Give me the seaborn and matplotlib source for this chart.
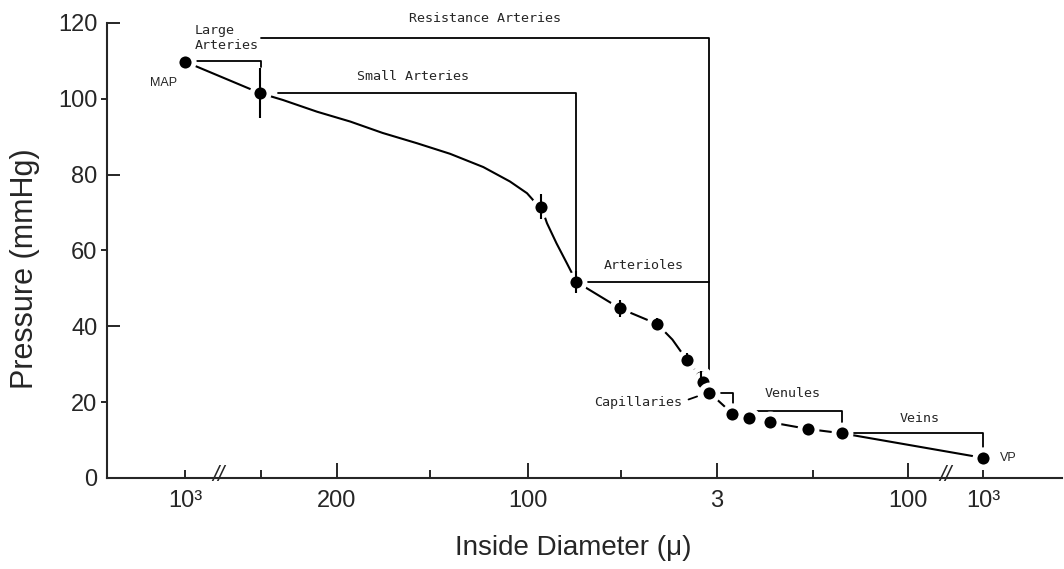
import numpy as np
import pandas as pd
import matplotlib
matplotlib.use("Agg")
import matplotlib.pyplot as plt
import seaborn as sns

# x is the position along the (broken, non-linear) diameter axis
tick_major = [1.60, 3.61, 5.60, 7.61]
tick_major_labels = ["200", "100", "3", "100"]
tick_minor = [0.0, 0.80, 2.58, 4.59, 6.61, 8.40]
tick_minor_labels = ["10³", "", "", "", "", "10³"]
axis_breaks = [0.35, 8.00]

# measured points (mean pressure, mmHg) and their error bars
pt_x = [0.0, 0.79, 3.75, 4.12, 4.58, 4.97, 5.28, 5.43, 5.45, 5.52,
        5.76, 5.94, 6.16, 6.56, 6.91, 8.40]
pt_y = [109.8, 101.5, 71.5, 51.7, 44.7, 40.6, 31.2, 26.6, 25.3, 22.5,
        17.0, 15.9, 14.7, 12.9, 11.8, 5.3]
pt_err = [0, 6.5, 3.3, 3.0, 2.2, 1.6, 1.7, 1.5, 0, 0,
          0, 0, 0, 0, 0, 0]

# fitted curve
curve_x = [0.0, 0.79, 1.03, 1.39, 1.74, 2.08, 2.44, 2.79, 3.14, 3.42, 3.60,
           3.71, 3.75, 3.81, 3.91, 4.02, 4.12, 4.58, 4.97, 5.13, 5.28, 5.43,
           5.45, 5.52, 5.76, 5.94, 6.16, 6.56, 6.91, 8.40]
curve_y = [109.8, 101.5, 99.7, 96.6, 94.0, 91.0, 88.3, 85.5, 82.0, 78.2, 75.1,
           72.0, 71.5, 67.2, 61.9, 56.6, 51.7, 44.7, 40.6, 36.5, 31.2, 26.6,
           25.3, 22.5, 17.0, 15.9, 14.7, 12.9, 11.8, 5.3]

# vessel-class brackets: (x start, x end, y, y where the right leg stops)
brackets = [
    (0.13, 0.80, 110.0, 108.5),
    (0.80, 5.52, 116.1, 25.0),
    (0.98, 4.12, 101.5, 54.4),
    (4.23, 5.52, 51.7, 51.7),
    (5.63, 5.77, 22.4, 19.7),
    (6.00, 6.91, 17.6, 14.4),
    (7.00, 8.40, 11.9, 8.1),
]
bracket_labels = ["Large\nArteries", "Resistance Arteries", "Small Arteries",
                  "Arterioles", "Capillaries", "Venules", "Veins"]
label_x = [0.105, 3.16, 2.40, 4.83, 5.23, 6.40, 7.73]
label_y = [116.0, 121.2, 105.8, 56.1, 20.0, 22.2, 15.7]
label_ha = ["left", "center", "center", "center", "right", "center", "center"]

sns.set_style("ticks")
plt.rcParams["font.family"] = ["Liberation Sans", "DejaVu Sans"]

fig = plt.figure(figsize=(10.64, 5.69), dpi=100)
ax = fig.add_axes([0.1006, 0.160, 0.8975, 0.7996])

sns.lineplot(x=curve_x, y=curve_y, sort=False, estimator=None,
             color="black", linewidth=1.5, ax=ax, zorder=2)
sns.scatterplot(x=pt_x, y=pt_y, color="black", s=150, edgecolor="white",
                linewidth=3.5, ax=ax, zorder=3)
ax.errorbar(pt_x, pt_y, yerr=pt_err, fmt="none", ecolor="black",
            elinewidth=1.5, capsize=0, zorder=4)

for (x0, x1, y, yend) in brackets:
    ax.plot([x0, x1, x1], [y, y, yend], color="black", lw=1.3,
            clip_on=False, zorder=1)
# leader from the capillaries label
ax.plot([5.30, 5.39], [20.7, 21.5], color="black", lw=1.3)

for txt, x, y, ha in zip(bracket_labels, label_x, label_y, label_ha):
    ax.text(x, y, txt, ha=ha, va="center", fontsize=9.6,
            family="DejaVu Sans Mono", linespacing=1.15, clip_on=False)
ax.text(-0.23, 104.2, "MAP", ha="center", va="center", fontsize=9)
ax.text(8.66, 5.3, "VP", ha="center", va="center", fontsize=9)

for b in axis_breaks:
    ax.text(b, 0.6, "//", ha="center", va="center", fontsize=16,
            fontstyle="italic", clip_on=False)

ax.set_xlim(-0.82, 9.23)
ax.set_ylim(0, 120)
sns.despine(ax=ax)
for s in ["left", "bottom"]:
    ax.spines[s].set_linewidth(1.5)

ax.set_xticks(tick_major)
ax.set_xticklabels(tick_major_labels)
ax.set_xticks(tick_minor, minor=True)
ax.set_xticklabels(tick_minor_labels, minor=True)
ax.tick_params(axis="x", which="major", direction="in", length=11, width=1.4,
               pad=9, labelsize=17)
ax.tick_params(axis="x", which="minor", direction="in", length=6, width=1.4,
               pad=9, labelsize=17)

ax.set_yticks([0, 40, 80, 120])
ax.set_yticks([20, 60, 100], minor=True)
ax.set_yticklabels(["0", "40", "80", "120"])
ax.set_yticklabels(["20", "60", "100"], minor=True)
ax.tick_params(axis="y", which="major", direction="in", length=9, width=1.4,
               pad=7, labelsize=17)
ax.tick_params(axis="y", which="minor", direction="out", length=4, width=1.4,
               pad=3, labelsize=17)

ax.set_ylabel("Pressure (mmHg)", fontsize=22)
ax.yaxis.set_label_coords(-0.07, 0.46)
ax.set_xlabel("Inside Diameter (μ)", fontsize=20)
ax.xaxis.set_label_coords(0.488, -0.125)

fig.savefig("out.png", dpi=100, facecolor="white")
